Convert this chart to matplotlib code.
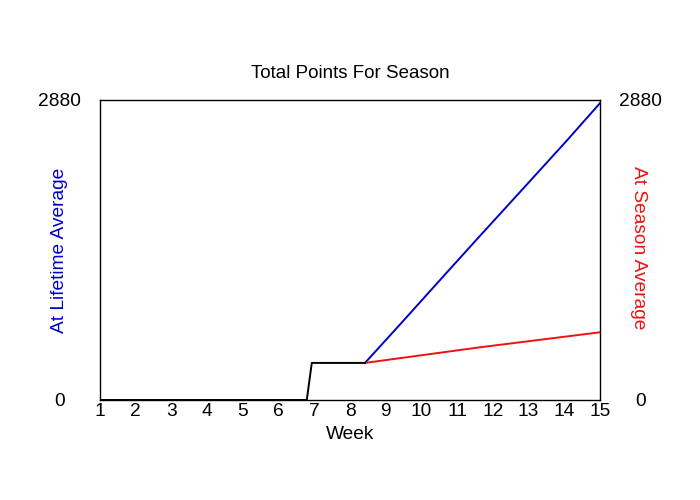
import matplotlib
matplotlib.use("Agg")
import matplotlib.pyplot as plt

plt.rcParams['font.family'] = ['Liberation Sans', 'DejaVu Sans']

# Data
actual_weeks = [1, 6.79, 6.93, 8.42]
actual_points = [0, 0, 356, 356]

lifetime_weeks = [8.42, 9.4, 10.6, 11.55, 12.95, 14.07, 15]
lifetime_points = [356, 725, 1182, 1542, 2068, 2490, 2850]

season_weeks = [8.42, 11.64, 15]
season_points = [356, 506, 650]

x_ticks = list(range(1, 16))
y_ticks = [0, 2880]

fig = plt.figure(figsize=(7, 5), dpi=100)
ax = fig.add_axes([100/700, 100/500, 500/700, 300/500])

ax.plot(lifetime_weeks, lifetime_points, color='#0000cc', lw=1.4)
ax.plot(season_weeks, season_points, color='#ee1111', lw=1.4)
ax.plot(actual_weeks, actual_points, color='black', lw=1.4)

ax.set_xlim(1, 15)
ax.set_ylim(0, 2880)
ax.set_xticks(x_ticks)
ax.set_xticklabels([str(v) for v in x_ticks], fontsize=13.8)
ax.tick_params(axis='x', length=0, pad=2.5)
ax.set_yticks(y_ticks)
ax.set_yticklabels([str(v) for v in y_ticks], fontsize=13.8)
ax.tick_params(axis='y', length=0, pad=29, labelright=True, right=False)
for t in ax.yaxis.get_major_ticks():
    t.label1.set_horizontalalignment('center')
    t.label2.set_horizontalalignment('center')
    t.label2.set_fontsize(13.8)

for s in ax.spines.values():
    s.set_linewidth(1.0)

ax.set_title('Total Points For Season', fontsize=13.5, pad=16)
ax.set_xlabel('Week', fontsize=13.8, labelpad=4)
fig.text(60/700, 1 - 250/500, 'At Lifetime Average', color='#0000cc', fontsize=13.8,
         rotation=90, ha='center', va='center')
fig.text(638/700, 1 - 248/500, 'At Season Average', color='#ee1111', fontsize=13.8,
         rotation=270, ha='center', va='center')

fig.savefig('out.png', dpi=100)
